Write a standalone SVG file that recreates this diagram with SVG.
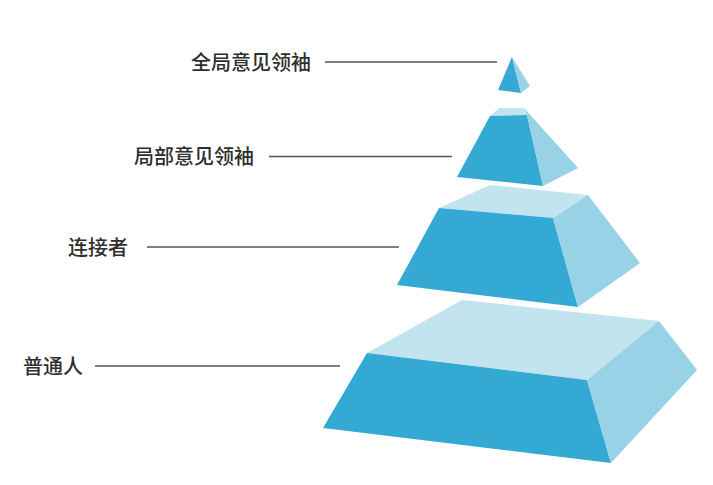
<svg xmlns="http://www.w3.org/2000/svg" width="713" height="485" viewBox="0 0 713 485">
<style>
.lbl{font-family:"Noto Sans CJK SC","Noto Sans",sans-serif;font-size:20px;font-weight:500;fill:#2e2e2e}
.ln{stroke:#555;stroke-width:1.3;fill:none}
.front{fill:#33a9d3}
.top{fill:#c2e4ef}
.side{fill:#97d2e7}
</style>
<rect width="713" height="485" fill="#fff"/>
<g id="connectors">
<line class="ln" x1="325" y1="62" x2="497" y2="62"/>
<line class="ln" x1="269" y1="156.5" x2="452" y2="156.5"/>
<line class="ln" x1="147" y1="247" x2="399" y2="247"/>
<line class="ln" x1="95" y1="366" x2="340" y2="366"/>
</g>
<g id="tier1">
<polygon class="front" points="512,57 498,90 521,93"/>
<polygon class="side" points="512,57 521,93 530,86"/>
<text class="lbl" x="191" y="69.5">全局意见领袖</text>
</g>
<g id="tier2">
<polygon class="top" points="490,116 499,108 524,108 527,115"/>
<polygon class="front" points="490,116 527,115 543,186 457,177"/>
<polygon class="side" points="527,115 524,108 578,168 543,186"/>
<text class="lbl" x="134" y="164">局部意见领袖</text>
</g>
<g id="tier3">
<polygon class="top" points="439,208 490,185 588,195 553,218"/>
<polygon class="front" points="439,208 553,218 578,307 397,285"/>
<polygon class="side" points="553,218 588,195 640,263 578,307"/>
<text class="lbl" x="68" y="254.5">连接者</text>
</g>
<g id="tier4">
<polygon class="top" points="367,353 462,300 659,321 587,380"/>
<polygon class="front" points="367,353 587,380 611,463 323,428"/>
<polygon class="side" points="587,380 659,321 697,370 611,463"/>
<text class="lbl" x="23" y="374">普通人</text>
</g>
</svg>
